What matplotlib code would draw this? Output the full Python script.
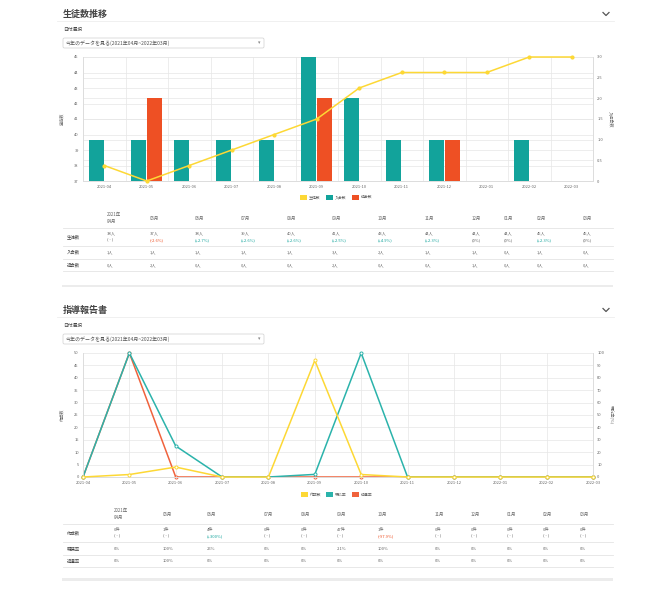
import matplotlib
matplotlib.use("Agg")
import matplotlib.pyplot as plt
from matplotlib.patches import Rectangle, FancyBboxPatch
import numpy as np

plt.rcParams["font.family"] = ["Noto Sans CJK JP", "DejaVu Sans"]

# データ
months = ["2021-04", "2021-05", "2021-06", "2021-07", "2021-08", "2021-09",
          "2021-10", "2021-11", "2021-12", "2022-01", "2022-02", "2022-03"]
headers = ["2021年\n04月", "05月", "06月", "07月", "08月", "09月",
           "10月", "11月", "12月", "01月", "02月", "03月"]

students = [38, 37, 38, 39, 40, 41, 43, 44, 44, 44, 45, 45]
joins = [1, 1, 1, 1, 1, 3, 2, 1, 1, 0, 1, 0]
leaves = [0, 2, 0, 0, 0, 2, 0, 0, 1, 0, 0, 0]
student_change = ["( - )", "(-2.6%)", "(+2.7%)", "(+2.6%)", "(+2.6%)", "(+2.5%)",
                  "(+4.9%)", "(+2.3%)", "(0%)", "(0%)", "(+2.3%)", "(0%)"]

reports = [0, 1, 4, 0, 0, 47, 1, 0, 0, 0, 0, 0]
read_rate = [0, 100, 25, 0, 0, 2.1, 100, 0, 0, 0, 0, 0]
return_rate = [0, 100, 0, 0, 0, 0, 0, 0, 0, 0, 0, 0]
report_change = ["( - )", "( - )", "(+300%)", "( - )", "( - )", "( - )",
                 "(-97.9%)", "( - )", "( - )", "( - )", "( - )", "( - )"]

YEL = "#fdd835"
TEAL = "#12a39b"
RED = "#ee5024"
TEAL2 = "#2bb3ab"
RED2 = "#f0623c"
GRID = "#e6e6e6"
TXT = "#666666"

W, H = 657, 600
fig = plt.figure(figsize=(W / 100, H / 100), dpi=100)


def box(l, t, r, b):
    return [l / W, 1 - b / H, (r - l) / W, (b - t) / H]


# 背景レイヤー (ピクセル座標)
ov = fig.add_axes([0, 0, 1, 1])
ov.set_xlim(0, W)
ov.set_ylim(H, 0)
ov.axis("off")


def header_block(ty, title):
    ov.text(63, ty, title, fontsize=6.5, fontweight="bold", color="#444", va="center")
    ov.plot([57, 614], [ty + 6.5, ty + 6.5], color="#eeeeee", lw=0.6)
    ov.plot([603, 606, 609], [ty - 1.5, ty + 1.5, ty - 1.5], color="#555", lw=0.9)
    ov.text(63, ty + 15.5, "日付選択", fontsize=3.4, color="#444", va="center")
    ov.add_patch(FancyBboxPatch((63, ty + 24), 201, 10, boxstyle="round,pad=0,rounding_size=1.5",
                                fc="white", ec="#d0d0d0", lw=0.5))
    ov.text(66, ty + 29, "今年のデータを見る(2021年04月~2022年03月)", fontsize=3.6,
            color="#555", va="center")
    ov.text(258, ty + 29, "▾", fontsize=3.5, color="#888", va="center", family="DejaVu Sans")


def legend(y, items):
    for x0, label, c in items:
        ov.add_patch(Rectangle((x0, y - 2.5), 7, 5, fc=c, ec="none"))
        ov.text(x0 + 9, y, label, fontsize=2.8, color=TXT, va="center")


def table(col_x, rows, y_head, y_lines, y_rows):
    for i, h in enumerate(headers):
        ov.text(col_x[i], y_head, h, fontsize=3.2, color=TXT, va="center", linespacing=1.6)
    for yl in y_lines:
        ov.plot([63, 613], [yl, yl], color="#e4e4e4", lw=0.6)
    for (label, vals, sub), yr in zip(rows, y_rows):
        ov.text(67, yr, label, fontsize=3.2, color="#444", va="center")
        for i, v in enumerate(vals):
            if sub is None:
                ov.text(col_x[i], yr, v, fontsize=3.0, color=TXT, va="center")
            else:
                ov.text(col_x[i], yr - 3.2, v, fontsize=3.0, color=TXT, va="center")
                s = sub[i]
                c = RED if s.startswith("(-") and s != "( - )" else (TEAL if s.startswith("(+") else TXT)
                ov.text(col_x[i], yr + 3.2, s, fontsize=3.0, color=c, va="center")


def dual(ax_r, ax_l, rlabel, llabel):
    # twinx() moves the original axis to the left, so put things back
    ax_r.yaxis.tick_right()
    ax_r.yaxis.set_label_position("right")
    ax_r.set_ylabel(rlabel, rotation=270, fontsize=3.0, color=TXT, labelpad=7)
    ax_l.yaxis.tick_left()
    ax_l.yaxis.set_label_position("left")
    ax_l.set_ylabel(llabel, fontsize=3.0, color=TXT, labelpad=7)
    ax_l.patch.set_visible(False)


# ---------- 生徒数推移 ----------
header_block(14, "生徒数推移")
x = np.arange(len(months))

ax = fig.add_axes(box(83, 57, 593, 181))
ax.set_axisbelow(True)
ax.bar(x - 0.19, joins, 0.35, color=TEAL, zorder=2)
ax.bar(x + 0.19, leaves, 0.35, color=RED, zorder=2)
ax.set_xlim(-0.5, 11.5)
ax.set_ylim(0, 3)
ax.set_yticks(np.arange(0, 3.01, 0.5))
ax.set_yticklabels(["0"] + ["%.1f" % v for v in np.arange(0.5, 3.01, 0.5)])
ax.grid(axis="y", color=GRID, lw=0.5)
for v in range(37, 46):
    ax.axhline((v - 37) * 3 / 8, color=GRID, lw=0.5, zorder=0)
for b in np.arange(-0.5, 12, 1):
    ax.axvline(b, color=GRID, lw=0.5, zorder=0)
ax.set_xticks(x)
ax.set_xticklabels(months)

ax2 = ax.twinx()
ax2.plot(x, students, color=YEL, lw=1.1, marker="o", ms=2, clip_on=False, zorder=3)
ax2.set_ylim(37, 45)
ax2.set_yticks(range(37, 46))
dual(ax, ax2, "入退会数", "生徒数")

legend(197, [(300, "生徒数", YEL), (326, "入会数", TEAL), (352, "退会数", RED)])

col1 = [107, 150, 195, 241, 287, 332, 378, 425, 472, 504, 537, 583]
table(col1,
      [("生徒数", ["%d人" % v for v in students], student_change),
       ("入会数", ["%d人" % v for v in joins], None),
       ("退会数", ["%d人" % v for v in leaves], None)],
      218, [228, 246, 259, 271], [237, 252.5, 265])
ov.add_patch(Rectangle((62, 284.5), 551, 2.5, fc="#ececec", ec="none"))

# ---------- 指導報告書 ----------
header_block(310, "指導報告書")

ax3 = fig.add_axes(box(83, 353, 593, 477))
ax3.set_axisbelow(True)
ax3.plot(x, return_rate, color=RED2, lw=1.1, marker="o", ms=2.2, mfc="white", mew=0.7,
         clip_on=False, zorder=2)
ax3.plot(x, read_rate, color=TEAL2, lw=1.1, marker="o", ms=2.2, mfc="white", mew=0.7,
         clip_on=False, zorder=3)
ax3.set_xlim(0, 11)
ax3.set_ylim(0, 100)
ax3.set_yticks(range(0, 101, 10))
ax3.grid(color=GRID, lw=0.5)
ax3.set_xticks(x)
ax3.set_xticklabels(months)

ax4 = ax3.twinx()
ax4.plot(x, reports, color=YEL, lw=1.1, marker="o", ms=2.2, mfc="white", mew=0.7,
         clip_on=False, zorder=3)
ax4.set_ylim(0, 50)
ax4.set_yticks(range(0, 51, 5))
dual(ax3, ax4, "既読率(%)", "作成数")

legend(494.5, [(301, "作成数", YEL), (326, "既読率", TEAL2), (352, "退還率", RED2)])

col2 = [114, 163, 207, 264, 301, 337, 378, 435, 471, 507, 543, 580]
table(col2,
      [("作成数", ["%d件" % v for v in reports], report_change),
       ("既読率", [("%g%%" % v) for v in read_rate], None),
       ("退還率", [("%g%%" % v) for v in return_rate], None)],
      514, [524, 542, 555, 567], [533, 549, 561])
ov.add_patch(Rectangle((62, 578), 551, 2.5, fc="#ececec", ec="none"))

# 軸の見た目
for a in (ax, ax2, ax3, ax4):
    a.tick_params(labelsize=2.9, colors=TXT, length=0, pad=3)
    for s in a.spines.values():
        s.set_color("#dddddd")
        s.set_linewidth(0.6)
    a.spines["top"].set_visible(False)

fig.savefig("out.png", dpi=100, facecolor="white")
